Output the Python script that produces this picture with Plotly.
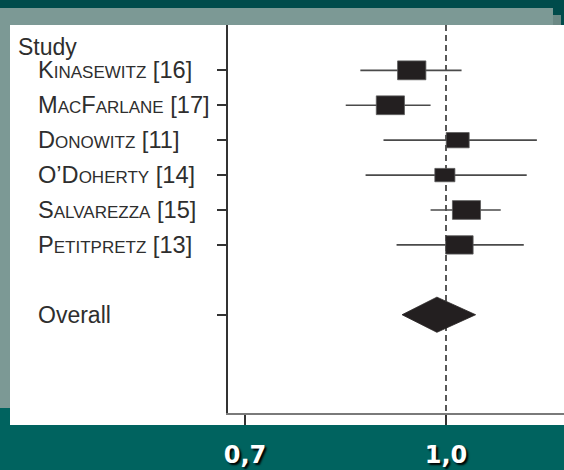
import numpy as np
import plotly.graph_objects as go

# ---------------- data ----------------
studies = ["Kinasewitz [16]", "MacFarlane [17]", "Donowitz [11]",
           "O’Doherty [14]", "Salvarezza [15]", "Petitpretz [13]"]
estimate = [0.941, 0.906, 1.021, 0.998, 1.037, 1.024]
ci_low = [0.859, 0.837, 0.895, 0.867, 0.973, 0.916]
ci_high = [1.028, 0.973, 1.175, 1.154, 1.102, 1.148]
weight = [19.7, 19.5, 12.9, 9.9, 19.4, 18.6]   # % weight -> box area

overall_label = "Overall"
overall_est = 0.984
overall_low = 0.925
overall_high = 1.054

header = "Study"
tick_vals = [0.7, 1.0]
tick_text = ["0,7", "1,0"]

# ---------------- layout geometry ----------------
W, H = 564, 470
L, R, T, B = 228, 0, 25, 57
PW, PH = W - L - R, H - T - B
X_RANGE = [-0.168003, 0.090937]          # log10 range
Y_RANGE = [9.815, -1.299]                # reversed rows
DEC_PX = PW / (X_RANGE[1] - X_RANGE[0])  # pixels per decade
ROW_PX = PH / (Y_RANGE[0] - Y_RANGE[1])  # pixels per row


def xp(px):
    return (px - L) / PW


def yp(py):
    return (H - B - py) / PH


rows = list(range(len(studies)))
overall_row = len(studies) + 1
header_row = -0.66

INK = "#231f20"
TEXT = "#2e2e2e"

fig = go.Figure()

# dashed line of no effect
fig.add_trace(go.Scatter(x=[1.0, 1.0], y=[Y_RANGE[1], Y_RANGE[0]], mode="lines",
                         line=dict(color="#222222", width=1.5, dash="6px,4px"),
                         hoverinfo="skip", showlegend=False))

# confidence intervals
for i in rows:
    fig.add_trace(go.Scatter(x=[ci_low[i], ci_high[i]], y=[i, i], mode="lines",
                             line=dict(color="#4a4a4a", width=1.6),
                             hoverinfo="skip", showlegend=False))

# weighted boxes
AREA_PER_PCT = 27.1
ASPECT = 1.5
for i in rows:
    area = weight[i] * AREA_PER_PCT
    h = np.sqrt(area / ASPECT)
    w = h * ASPECT
    f = 10 ** (w / 2 / DEC_PX)
    dy = h / 2 / ROW_PX
    x0, x1 = estimate[i] / f, estimate[i] * f
    fig.add_trace(go.Scatter(x=[x0, x1, x1, x0, x0],
                             y=[i - dy, i - dy, i + dy, i + dy, i - dy],
                             mode="lines", fill="toself", fillcolor=INK,
                             line=dict(color="#5a5a5a", width=0.8),
                             hoverinfo="skip", showlegend=False))

# overall diamond
dh = 17.6 / ROW_PX
fig.add_trace(go.Scatter(x=[overall_low, overall_est, overall_high, overall_est, overall_low],
                         y=[overall_row, overall_row - dh, overall_row, overall_row + dh, overall_row],
                         mode="lines", fill="toself", fillcolor=INK,
                         line=dict(color=INK, width=0.8),
                         hoverinfo="skip", showlegend=False))

# background slide decoration
shapes = [
    dict(type="rect", xref="paper", yref="paper", x0=xp(0), x1=xp(W), y0=yp(0), y1=yp(25),
         fillcolor="#004b4b", line=dict(width=0), layer="below"),
    dict(type="rect", xref="paper", yref="paper", x0=xp(10), x1=xp(561), y0=yp(15), y1=yp(417),
         fillcolor="#6c8985", line=dict(width=0), layer="below"),
    dict(type="rect", xref="paper", yref="paper", x0=xp(0), x1=xp(553), y0=yp(8), y1=yp(408),
         fillcolor="#7c9995", line=dict(width=0), layer="below"),
    dict(type="rect", xref="paper", yref="paper", x0=xp(10), x1=xp(W), y0=yp(25), y1=yp(425),
         fillcolor="#ffffff", line=dict(width=0), layer="below"),
]

label_font = dict(family="Liberation Sans, Arial, sans-serif", size=23, color=TEXT)
annotations = [dict(xref="paper", yref="y", x=xp(16), y=header_row, text=header,
                    xanchor="left", yanchor="middle", showarrow=False, font=label_font)]
for i in rows:
    annotations.append(dict(xref="paper", yref="y", x=xp(36), y=i, text=studies[i],
                            xanchor="left", yanchor="middle", showarrow=False,
                            font=dict(label_font, size=23.6, variant="small-caps")))
annotations.append(dict(xref="paper", yref="y", x=xp(36), y=overall_row, text=overall_label,
                        xanchor="left", yanchor="middle", showarrow=False, font=label_font))

fig.update_layout(
    width=W, height=H,
    margin=dict(l=L, r=R, t=T, b=B, pad=0),
    paper_bgcolor="#00635f",
    plot_bgcolor="rgba(0,0,0,0)",
    shapes=shapes,
    annotations=annotations,
    showlegend=False,
    xaxis=dict(type="log", range=X_RANGE, tickvals=tick_vals, ticktext=tick_text,
               showgrid=False, zeroline=False, showline=True, linecolor="#7a7a7a",
               linewidth=2, ticks="outside", ticklen=10, tickwidth=1.6, tickcolor="#333333",
               ticklabelstandoff=9,
               tickfont=dict(family="DejaVu Sans, Verdana, sans-serif", size=24,
                             color="#ffffff", weight="bold", shadow="2px 2px 2px #000000")),
    yaxis=dict(range=Y_RANGE, tickvals=rows + [overall_row], showticklabels=False,
               showgrid=False, zeroline=False, showline=True, linecolor="#333333",
               linewidth=1.5, ticks="outside", ticklen=9, tickwidth=1.5, tickcolor="#333333"),
)

fig.write_html("out.html", config={"displayModeBar": False},
               post_script="document.body.style.margin='0px';document.body.style.overflow='hidden';")
